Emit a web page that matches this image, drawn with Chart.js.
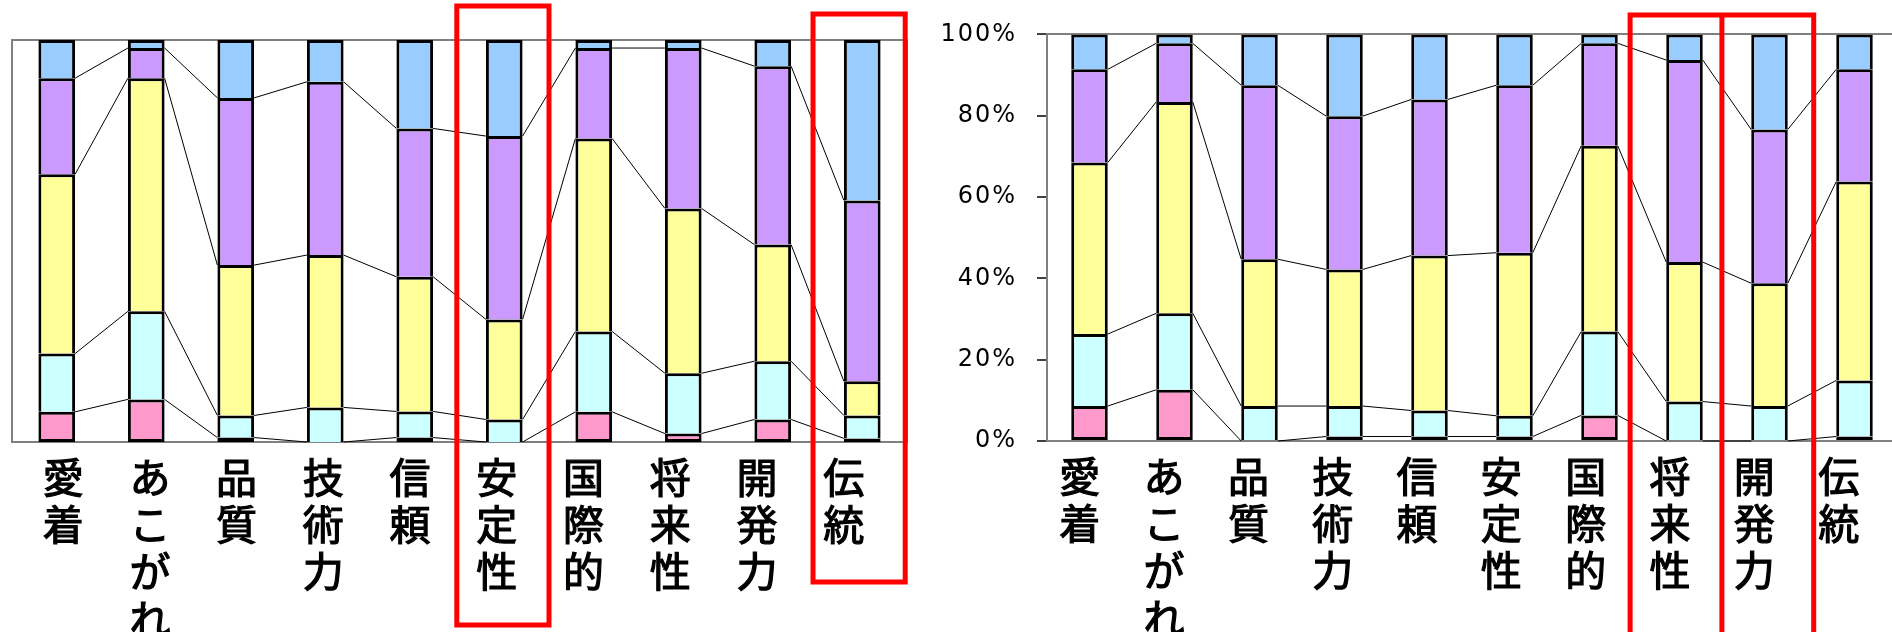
<!DOCTYPE html>
<html>
<head>
<meta charset="utf-8">
<script src="https://cdn.jsdelivr.net/npm/chart.js@4"></script>
<style>
  html, body { margin: 0; padding: 0; background: #fff; overflow: hidden; }
  #wrap { position: relative; width: 1892px; height: 632px; overflow: hidden; }
  #leftChart { position: absolute; left: 0; top: 0; }
  #rightChart { position: absolute; left: 920px; top: 0; }
</style>
</head>
<body>
<div id="wrap">
  <canvas id="leftChart" width="930" height="632"></canvas>
  <canvas id="rightChart" width="980" height="632"></canvas>
</div>
<script>
const categories = ['愛着', 'あこがれ', '品質', '技術力', '信頼', '安定性', '国際的', '将来性', '開発力', '伝統'];
const yTicks = [0, 20, 40, 60, 80, 100];

// left chart, share of each segment in % (bottom to top)
const leftPink   = [7.5, 10.6, 1.1, 0, 1.1, 0, 7.5, 2.1, 5.6, 0.9];
const leftCyan   = [14.5, 21.9, 5.5, 8.6, 6.5, 5.6, 20.0, 15.0, 14.5, 5.7];
const leftYellow = [44.6, 58.0, 37.4, 37.9, 33.5, 24.9, 48.0, 41.0, 29.0, 8.5];
const leftPurple = [23.9, 7.5, 41.6, 43.1, 36.9, 45.6, 22.5, 39.9, 44.4, 45.0];
const leftBlue   = [9.5, 2.0, 14.4, 10.4, 22.0, 23.9, 2.0, 2.0, 6.5, 39.9];

// right chart
const rightPink   = [8.6, 12.6, 0, 1.1, 1.1, 1.1, 6.3, 0, 0, 1.1];
const rightCyan   = [17.7, 18.8, 8.6, 7.5, 6.4, 5.1, 20.6, 9.7, 8.6, 13.8];
const rightYellow = [42.2, 52.0, 36.1, 33.6, 38.1, 40.1, 45.7, 34.3, 30.2, 48.9];
const rightPurple = [22.9, 14.4, 42.8, 37.7, 38.4, 41.2, 25.2, 49.7, 37.8, 27.6];
const rightBlue   = [8.6, 2.2, 12.5, 20.1, 16.0, 12.5, 2.2, 6.3, 23.4, 8.6];

const colors = ['#FF99CC', '#CCFFFF', '#FFFF99', '#CC99FF', '#99CCFF'];

// thin lines joining the segment tops of neighbouring bars
const seriesLines = {
  id: 'seriesLines',
  afterDatasetsDraw(chart) {
    const ctx = chart.ctx;
    ctx.save();
    ctx.strokeStyle = '#000';
    ctx.lineWidth = 1;
    for (let d = 0; d < chart.data.datasets.length - 1; d++) {
      const bars = chart.getDatasetMeta(d).data;
      for (let i = 0; i < bars.length - 1; i++) {
        const a = bars[i], b = bars[i + 1];
        ctx.beginPath();
        ctx.moveTo(a.x + a.width / 2, a.y);
        ctx.lineTo(b.x - b.width / 2, b.y);
        ctx.stroke();
      }
    }
    ctx.restore();
  }
};

const plotFrame = {
  id: 'plotFrame',
  beforeDatasetsDraw(chart, args, opts) {
    if (!opts.show) return;
    const a = chart.chartArea;
    const ctx = chart.ctx;
    ctx.save();
    ctx.strokeStyle = '#808080';
    ctx.lineWidth = 2;
    ctx.strokeRect(a.left, a.top, a.right - a.left, a.bottom - a.top);
    ctx.restore();
  }
};

// red highlight boxes round some categories
const redBoxes = {
  id: 'redBoxes',
  afterDraw(chart, args, opts) {
    const x = chart.scales.x;
    const step = x.getPixelForValue(1) - x.getPixelForValue(0);
    const ctx = chart.ctx;
    ctx.save();
    ctx.strokeStyle = '#FF0000';
    ctx.lineWidth = 5;
    (opts.boxes || []).forEach(b => {
      const l = x.getPixelForValue(b.from) - b.lpad * step;
      const r = x.getPixelForValue(b.to) + b.rpad * step;
      ctx.strokeRect(l, b.top, r - l, b.bottom - b.top);
      if (b.divide) {
        ctx.beginPath();
        ctx.moveTo((l + r) / 2, b.top);
        ctx.lineTo((l + r) / 2, b.bottom);
        ctx.stroke();
      }
    });
    ctx.restore();
  }
};

const wideDigits = {
  id: 'wideDigits',
  beforeDraw(chart, args, opts) {
    if (opts.spacing) chart.ctx.letterSpacing = opts.spacing;
  }
};

function makeDatasets(series, pct) {
  return series.map((values, i) => ({
    data: values,
    backgroundColor: colors[i],
    borderColor: '#000',
    borderWidth: 3,
    borderSkipped: i === 0 ? false : 'start',
    barPercentage: 1,
    categoryPercentage: pct
  }));
}

const labelFont = { family: "'Noto Sans CJK JP'", size: 41, lineHeight: 1.15 };

function renderChart(id, series, opt) {
  const ctx = document.getElementById(id).getContext('2d');
  return new Chart(ctx, {
    type: 'bar',
    data: {
      labels: categories,
      datasets: makeDatasets(series, opt.barPct)
    },
    options: {
      responsive: false,
      animation: false,
      devicePixelRatio: 1,
      layout: { padding: opt.padding },
      plugins: {
        legend: { display: false },
        tooltip: { enabled: false },
        plotFrame: { show: opt.frame },
        redBoxes: { boxes: opt.boxes },
        wideDigits: { spacing: opt.showY ? '2px' : null }
      },
      scales: {
        x: {
          stacked: true,
          display: false
        },
        // label axis: the category names sit on a slightly different pitch than the bars
        xl: {
          type: 'linear',
          position: 'bottom',
          offset: false,
          bounds: 'data',
          min: opt.labelRange[0],
          max: opt.labelRange[1],
          afterBuildTicks: s => { s.ticks = categories.map((c, i) => ({ value: i })); },
          grid: { display: false, drawTicks: false, offset: false },
          border: { display: !opt.frame, color: '#808080', width: 2 },
          ticks: {
            color: '#000',
            font: labelFont,
            textStrokeColor: '#000',
            textStrokeWidth: 1.2,
            padding: 12,
            maxRotation: 0,
            autoSkip: false,
            callback: v => Array.from(categories[v])
          },
          afterFit: s => { s.height = opt.xHeight; }
        },
        y: {
          stacked: true,
          display: opt.showY,
          min: 0,
          max: 100,
          afterBuildTicks: s => { s.ticks = yTicks.map(v => ({ value: v })); },
          grid: {
            color: c => (c.tick && c.tick.value === 100) ? '#808080' : 'rgba(0,0,0,0)',
            lineWidth: 2,
            tickColor: '#000',
            tickLength: 10,
            tickWidth: 1.5
          },
          border: { color: '#808080', width: 2 },
          ticks: {
            color: '#000',
            padding: 20,
            font: { family: "'DejaVu Sans'", size: 24 },
            callback: v => v + '%'
          },
          afterFit: s => { s.width = opt.yWidth; }
        }
      }
    },
    plugins: [plotFrame, seriesLines, redBoxes, wideDigits]
  });
}

renderChart('leftChart', [leftPink, leftCyan, leftYellow, leftPurple, leftBlue], {
  padding: { left: 12, right: 23, top: 40, bottom: 0 },
  xHeight: 190,
  yWidth: 0,
  showY: false,
  frame: true,
  barPct: 0.41,
  labelRange: [-0.59, 9.73],
  boxes: [
    { from: 5, to: 5, lpad: 0.53, rpad: 0.5, top: 6, bottom: 625 },
    { from: 9, to: 9, lpad: 0.55, rpad: 0.48, top: 14, bottom: 582 }
  ]
});

renderChart('rightChart', [rightPink, rightCyan, rightYellow, rightPurple, rightBlue], {
  padding: { left: 0, right: 3, top: 32, bottom: 0 },
  xHeight: 191,
  yWidth: 127,
  showY: true,
  frame: false,
  barPct: 0.43,
  labelRange: [-0.40, 9.68],
  boxes: [
    { from: 7, to: 8, lpad: 0.64, rpad: 0.52, top: 15, bottom: 650, divide: true }
  ]
});
</script>
</body>
</html>
